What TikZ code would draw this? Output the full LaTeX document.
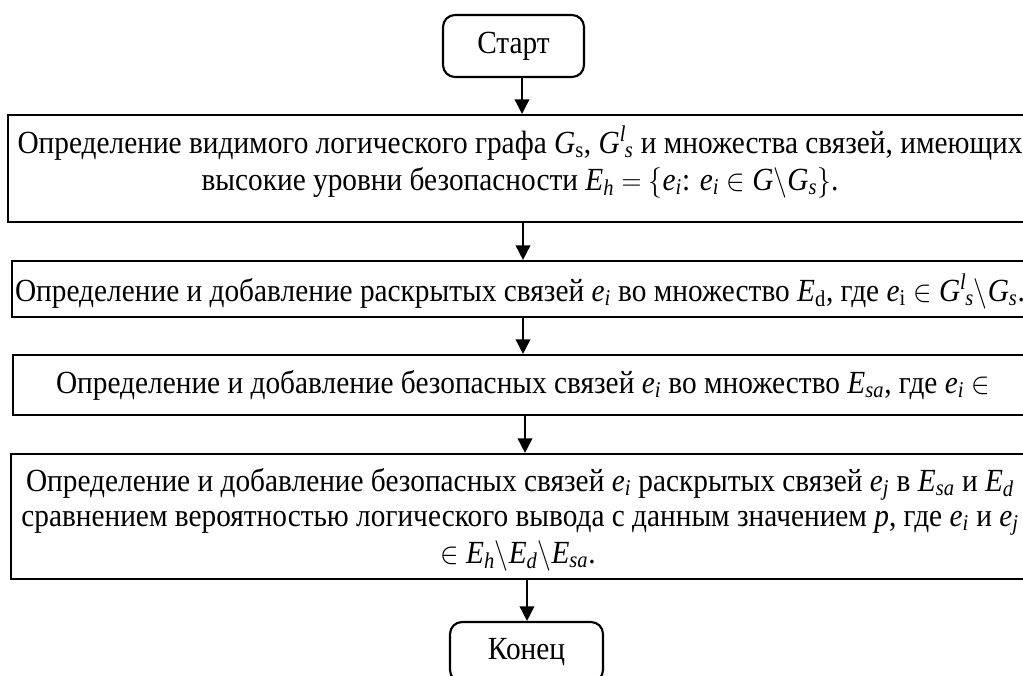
\documentclass[tikz,border=0pt]{standalone}
\usepackage{fontspec}
\usepackage{graphicx}
\setmainfont{Liberation Serif}
\usetikzlibrary{arrows.meta}
\newcommand\eI{\textit{e}\textsubscript{\textit{i}}}
\newcommand\eJ{\textit{e}\textsubscript{\textit{j}}}
\newcommand\EsA{\textit{E}\textsubscript{\textit{sa}}}
\newcommand\GLs{\textit{G}\textsuperscript{\textit{l}}\kern-1pt\textsubscript{\textit{s}}}
\newcommand\ys[1]{\scalebox{1}[1.1]{#1}}
\begin{document}
\begin{tikzpicture}[x=0.75pt,y=-0.75pt,
  box/.style={draw, line width=1.6pt, fill=white, inner sep=0pt},
  term/.style={box, rounded corners=9pt, font=\fontsize{22}{26}\selectfont},
  txt/.style={inner sep=0pt, anchor=base, font=\fontsize{22}{26}\selectfont},
  arr/.style={line width=1.2pt, -{Triangle[width=11pt,length=11pt]}}]
\path[use as bounding box] (0,0) rectangle (1023,675);
\clip (0,0) rectangle (1023,675);
% boxes
\node[term, minimum width=105.75pt, minimum height=46.5pt] (start) at (513.5,46) {\ys{Старт}};
\node[box, minimum width=770.25pt, minimum height=80.25pt] (b1) at (521.5,168.5) {};
\node[box, minimum width=767.25pt, minimum height=42pt] (b2) at (523.5,289) {};
\node[box, minimum width=766.5pt, minimum height=45pt] (b3) at (524,385) {};
\node[box, minimum width=768pt, minimum height=93.75pt] (b4) at (523,516.5) {};
\node[term, minimum width=114.75pt, minimum height=45pt] (end) at (526.5,652) {\ys{Конец}};
% texts
\node[txt] (t1a) at (520,153) {\ys{Определение видимого логического графа \textit{G}\textsubscript{s}, \GLs\ и множества связей, имеющих}};
\node[txt] (t1b) at (520,190) {\ys{высокие уровни безопасности \textit{E}\textsubscript{\textit{h}} $=$ $\{$\eI: \eI\ $\in$ \textit{G}$\setminus$\textit{G}\textsubscript{\textit{s}}$\}$.}};
\node[txt] (t2) at (520,301) {\ys{Определение и добавление раскрытых связей \eI\ во множество \textit{E}\textsubscript{d}, где \textit{e}\textsubscript{i} $\in$ \GLs$\setminus$\textit{G}\textsubscript{\textit{s}}.}};
\node[txt] (t3) at (523,393) {\ys{Определение и добавление безопасных связей \eI\ во множество \EsA, где \eI\ $\in$}};
\node[txt] (t4a) at (520,491) {\ys{Определение и добавление безопасных связей \eI\ раскрытых связей \eJ\ в \EsA\ и \textit{E}\textsubscript{\textit{d}}}};
\node[txt] (t4b) at (520,526) {\ys{сравнением вероятностью логического вывода с данным значением \textit{p}, где \eI\ и \eJ}};
\node[txt] (t4c) at (518,563) {\ys{$\in$ \textit{E}\textsubscript{\textit{h}}$\setminus$\textit{E}\textsubscript{\textit{d}}$\setminus$\EsA.}};
% arrow columns
\coordinate (c0) at (522,0);
\coordinate (c1) at (523,0);
\coordinate (c2) at (523,0);
\coordinate (c3) at (525,0);
\coordinate (c4) at (527,0);
\draw[arr] (start.south -| c0) -- (b1.north -| c0);
\draw[arr] (b1.south -| c1) -- (b2.north -| c1);
\draw[arr] (b2.south -| c2) -- (b3.north -| c2);
\draw[arr] (b3.south -| c3) -- (b4.north -| c3);
\draw[arr] (b4.south -| c4) -- (end.north -| c4);
\end{tikzpicture}
\end{document}
